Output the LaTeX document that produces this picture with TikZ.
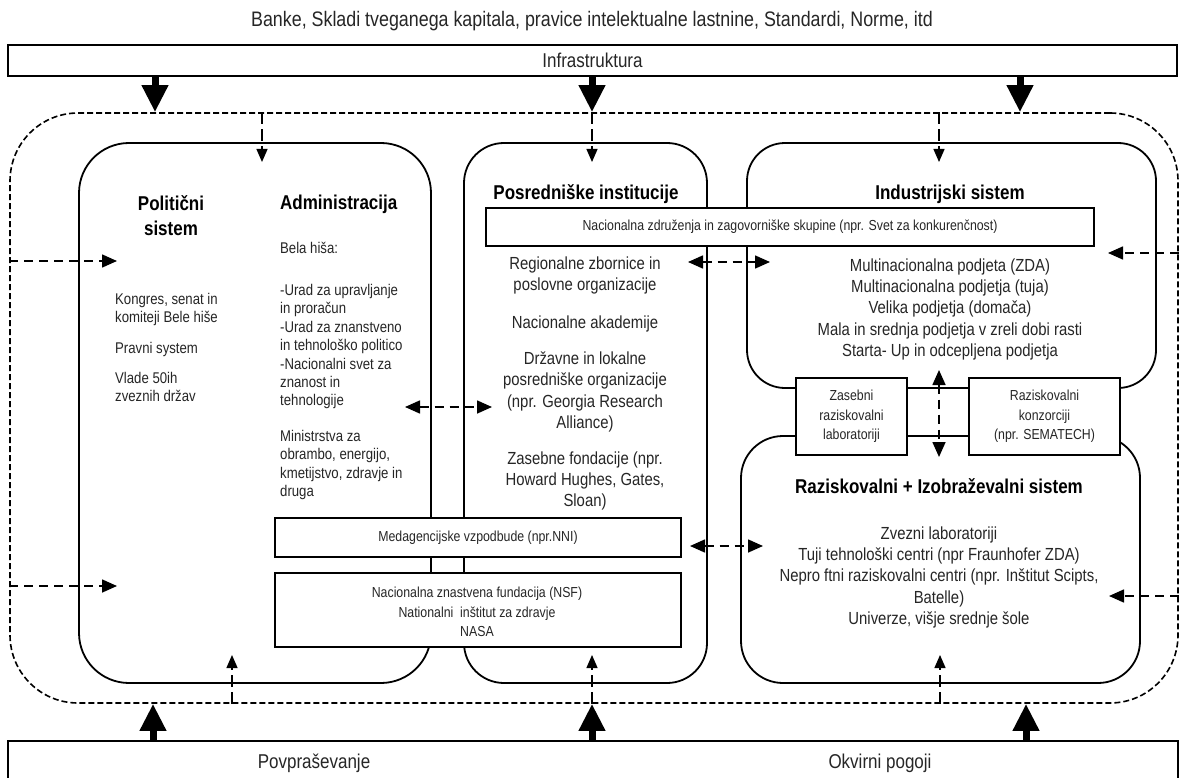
\documentclass[tikz,border=0pt]{standalone}
\usepackage{fontspec}
\setmainfont{Liberation Sans}[FakeStretch=0.85]
\usetikzlibrary{arrows.meta,calc}
\begin{document}
\begin{tikzpicture}[x=1pt,y=-1pt,
  rbox/.style={draw, line width=1.8pt, inner sep=0pt, outer sep=0pt},
  wbox/.style={draw, line width=1.5pt, fill=white, inner sep=0pt, outer sep=0pt},
  bigarr/.style={-{Triangle[width=25pt,length=27pt]}, line width=7pt},
  thinarr/.style={-{Triangle[width=11pt,length=13pt]}, line width=1.3pt, dash pattern=on 12pt off 5pt},
  sidearr/.style={-{Triangle[width=13pt,length=15pt]}, line width=1.6pt, dash pattern=on 9pt off 6pt},
  dsidearr/.style={{Triangle[width=13pt,length=15pt]}-{Triangle[width=13pt,length=15pt]}, line width=1.6pt, dash pattern=on 9pt off 6pt},
  bodytxt/.style={inner sep=0pt, align=center, text=black!85, font=\fontsize{17.5}{21.3}\selectfont},
  lefttxt/.style={inner sep=0pt, align=left, anchor=north west, text=black!85, font=\fontsize{15.5}{18.4}\selectfont},
  smalltxt/.style={inner sep=0pt, align=center, text=black!85, font=\fontsize{14.5}{19.5}\selectfont},
  bigtxt/.style={inner sep=0pt, text=black!85, font=\fontsize{20}{22}\selectfont},
  title/.style={inner sep=0pt, align=center, font=\bfseries\fontsize{20}{25}\selectfont}
]
\clip (0,0) rectangle (1185,778);
\fill[white] (0,0) rectangle (1185,778);

% top header and infrastructure bar
\node[inner sep=0pt, text=black!85, font=\fontsize{21}{23}\selectfont] (hdr) at (592,21) {Banke, Skladi tveganega kapitala, pravice intelektualne lastnine, Standardi, Norme, itd};
\node[draw, line width=1.4pt, minimum width=1169pt, minimum height=31pt, inner sep=0pt, bigtxt] (infra) at (592.5,60.5) {Infrastruktura};

% outer dashed frame
\node[draw, line width=1.6pt, dash pattern=on 6pt off 3pt, rounded corners=68pt, minimum width=1168pt, minimum height=590pt, inner sep=0pt] (outer) at (594,408) {};

% main boxes
\node[rbox, rounded corners=50pt, minimum width=352pt, minimum height=540pt] (leftbox) at (255,413) {};
\node[rbox, rounded corners=40pt, minimum width=243pt, minimum height=540pt] (midbox) at (585.5,413) {};
\node[rbox, rounded corners=38pt, minimum width=409pt, minimum height=245pt] (indbox) at (951.5,265.5) {};
\node[rbox, rounded corners=42pt, minimum width=399pt, minimum height=247pt] (resbox) at (940.5,559.5) {};

% bottom bar
\node[draw, line width=1.4pt, minimum width=1170pt, minimum height=60pt, inner sep=0pt] (demand) at (593,771) {};
\node[bigtxt] (povp) at (314,763) {Povpraševanje};
\node[bigtxt] (okv) at (880,763) {Okvirni pogoji};

% white boxes on top
\node[wbox, minimum width=608pt, minimum height=38pt, smalltxt] (nzbox) at (790,227) {Nacionalna združenja in zagovorniške skupine (npr. Svet za konkurenčnost)};
\node[wbox, minimum width=406pt, minimum height=39pt, smalltxt] (medbox) at (478,537.5) {Medagencijske vzpodbude (npr.NNI)};
\node[wbox, minimum width=406pt, minimum height=74pt] (nsfbox) at (478,610) {};
\node[smalltxt, anchor=north] (nsftxt) at (477,587) {Nacionalna znastvena fundacija (NSF)\\Nationalni\ \ inštitut za zdravje\\NASA};
\node[wbox, minimum width=111pt, minimum height=77pt, smalltxt] (zlab) at (851.5,416.5) {Zasebni\\raziskovalni\\laboratoriji};
\node[wbox, minimum width=151pt, minimum height=77pt, smalltxt] (rkon) at (1044.5,416.5) {Raziskovalni\\konzorciji\\(npr. SEMATECH)};

% left box texts
\node[title, anchor=north] (polt) at (171,195) {Politični\\sistem};
\node[title, anchor=north west] (adm) at (280,195) {Administracija};
\node[lefttxt] (bela) at (280,242) {Bela hiša:};
\node[lefttxt] (urad) at (280,284) {-Urad za upravljanje\\in proračun\\-Urad za znanstveno\\in tehnološko politico\\-Nacionalni svet za\\znanost in\\tehnologije};
\node[lefttxt] (mini) at (280,430) {Ministrstva za\\obrambo, energijo,\\kmetijstvo, zdravje in\\druga};
\node[lefttxt] (kong) at (115,293) {Kongres, senat in\\komiteji Bele hiše};
\node[lefttxt] (prav) at (115,342) {Pravni system};
\node[lefttxt] (vlade) at (115,372) {Vlade 50ih\\zveznih držav};

% middle box texts
\node[title, anchor=north] (posr) at (586,184) {Posredniške institucije};
\node[bodytxt, anchor=north] (regz) at (585,256.5) {Regionalne zbornice in\\poslovne organizacije};
\node[bodytxt, anchor=north] (naka) at (585,315.5) {Nacionalne akademije};
\node[bodytxt, anchor=north] (drz) at (585,351.5) {Državne in lokalne\\posredniške organizacije\\(npr. Georgia Research\\Alliance)};
\node[bodytxt, anchor=north] (zfond) at (585,451.5) {Zasebne fondacije (npr.\\Howard Hughes, Gates,\\Sloan)};

% industrial system texts
\node[title, anchor=north] (indt) at (950,185) {Industrijski sistem};
\node[bodytxt, anchor=north] (indl) at (950,258.5) {Multinacionalna podjeta (ZDA)\\Multinacionalna podjetja (tuja)\\Velika podjetja (domača)\\Mala in srednja podjetja v zreli dobi rasti\\Starta- Up in odcepljena podjetja};

% research system texts
\node[title, anchor=north] (rest) at (939,478) {Raziskovalni + Izobraževalni sistem};
\node[bodytxt, anchor=north] (resl) at (939,526.5) {Zvezni laboratoriji\\Tuji tehnološki centri (npr Fraunhofer ZDA)\\Nepro ftni raziskovalni centri (npr. Inštitut Scipts,\\Batelle)\\Univerze, višje srednje šole};

% x positions for vertical arrows
\coordinate (xt1) at (155,0);
\coordinate (xt2) at (592,0);
\coordinate (xt3) at (1020,0);
\coordinate (xb1) at (153,0);
\coordinate (xb2) at (592,0);
\coordinate (xb3) at (1026,0);
\coordinate (xs1) at (262,0);
\coordinate (xs2) at (592,0);
\coordinate (xs3) at (939,0);
\coordinate (xu1) at (232,0);
\coordinate (xu2) at (592,0);
\coordinate (xu3) at (940,0);
\coordinate (xv) at (939,0);
% y positions for horizontal arrows
\coordinate (yl1) at (0,261);
\coordinate (yl2) at (0,586);
\coordinate (ylm) at (0,407);
\coordinate (ymi) at (0,262);
\coordinate (ymr) at (0,546);
\coordinate (yr1) at (0,253);
\coordinate (yr2) at (0,596);

% thick arrows
\draw[bigarr] (infra.south -| xt1) -- (outer.north -| xt1);
\draw[bigarr] (infra.south -| xt2) -- (outer.north -| xt2);
\draw[bigarr] (infra.south -| xt3) -- (outer.north -| xt3);
\draw[bigarr] (demand.north -| xb1) -- (outer.south -| xb1);
\draw[bigarr] (demand.north -| xb2) -- (outer.south -| xb2);
\draw[bigarr] (demand.north -| xb3) -- (outer.south -| xb3);

% thin dashed arrows from frame into boxes
\draw[thinarr] (outer.north -| xs1) -- ($(leftbox.north -| xs1)+(0,19)$);
\draw[thinarr] (outer.north -| xs2) -- ($(midbox.north -| xs2)+(0,19)$);
\draw[thinarr] (outer.north -| xs3) -- ($(indbox.north -| xs3)+(0,19)$);
\draw[thinarr] (outer.south -| xu1) -- ($(leftbox.south -| xu1)+(0,-28)$);
\draw[thinarr] (outer.south -| xu2) -- ($(midbox.south -| xu2)+(0,-28)$);
\draw[thinarr] (outer.south -| xu3) -- ($(resbox.south -| xu3)+(0,-28)$);

% side arrows
\draw[sidearr] (outer.west |- yl1) -- ($(leftbox.west |- yl1)+(38,0)$);
\draw[sidearr] (outer.west |- yl2) -- ($(leftbox.west |- yl2)+(38,0)$);
\draw[sidearr] (outer.east |- yr1) -- ($(indbox.east |- yr1)+(-48,0)$);
\draw[sidearr] (outer.east |- yr2) -- ($(resbox.east |- yr2)+(-31,0)$);
\draw[dsidearr] ($(leftbox.east |- ylm)+(-26,0)$) -- ($(midbox.west |- ylm)+(28,0)$);
\draw[dsidearr] ($(midbox.east |- ymi)+(-19,0)$) -- ($(indbox.west |- ymi)+(23,0)$);
\draw[dsidearr] ($(medbox.east |- ymr)+(9,0)$) -- ($(resbox.west |- ymr)+(22,0)$);
\draw[dsidearr] ($(indbox.south -| xv)+(0,-18)$) -- ($(resbox.north -| xv)+(0,21)$);
\end{tikzpicture}
\end{document}
